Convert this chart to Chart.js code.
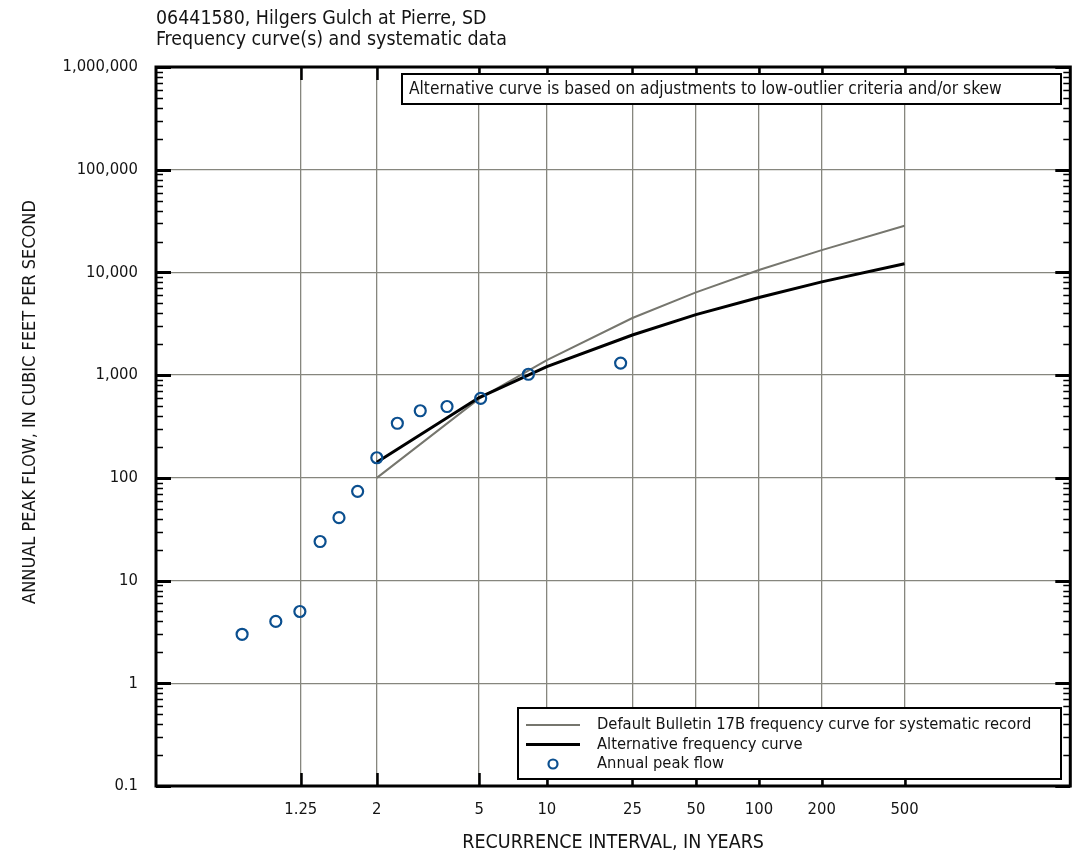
<!DOCTYPE html>
<html>
<head>
<meta charset="utf-8">
<script src="https://cdn.jsdelivr.net/npm/chart.js@4.4.1/dist/chart.umd.min.js"></script>
<style>
  html, body { margin: 0; padding: 0; background: #fff; }
  #wrap { width: 1078px; height: 855px; }
</style>
</head>
<body>
<div id="wrap"><canvas id="grafico" width="1078" height="855"></canvas></div>
<script>
// x axis: recurrence interval (years), drawn on a Gumbel (extreme value) scale
const xTickYears = [1.25, 2, 5, 10, 25, 50, 100, 200, 500];
const xTickLabels = ['1.25', '2', '5', '10', '25', '50', '100', '200', '500'];
const yTickValues = [0.1, 1, 10, 100, 1000, 10000, 100000, 1000000];

// frequency curves (recurrence interval -> peak flow, cfs)
const curveYears = [2, 5, 10, 25, 50, 100, 200, 500];
const defaultCurve = [100, 590, 1400, 3600, 6400, 10550, 16500, 28500];
const alternativeCurve = [142, 605, 1210, 2460, 3880, 5700, 8100, 12150];

// annual peaks (plotting position in years, flow in cfs)
const peakYears = [1.048, 1.136, 1.245, 1.375, 1.535, 1.737, 2.0, 2.357, 2.87, 3.667, 5.077, 8.25, 22.0];
const peakFlows = [3, 4, 5, 24, 41, 74, 157, 340, 450, 495, 595, 1020, 1310];

const FONTE = "'DejaVu Sans Condensed', 'DejaVu Sans', sans-serif";
const TEXTO = '#141414';
const GRADE = '#86867e';
const AZUL = '#0b4f8f';

Chart.defaults.font.family = FONTE;
Chart.defaults.color = TEXTO;

// reduced variate of the Gumbel distribution
function gumbel(T) {
    return -Math.log(-Math.log(1 - 1 / T));
}

function pares(anos, valores) {
    return anos.map((t, i) => ({ x: gumbel(t), y: valores[i] }));
}

function formatarVazao(v) {
    return v < 1 ? String(v) : v.toLocaleString('en-US');
}

const moldura = {
    id: 'moldura',
    afterDraw(chart) {
        const { ctx, chartArea: a, scales } = chart;
        const x = scales.x, y = scales.y;
        ctx.save();

        // inside tick marks on left and right axis
        ctx.strokeStyle = '#000';
        for (let d = 0.1; d < 2e6; d *= 10) {
            for (let m = 1; m <= 9; m++) {
                const v = d * m;
                if (v > 1e6 * 1.0001) break;
                const py = Math.round(y.getPixelForValue(v)) + 0.5;
                const major = m === 1;
                const len = major ? 15 : 7;
                ctx.lineWidth = major ? 3 : 1.5;
                ctx.beginPath();
                ctx.moveTo(a.left, py); ctx.lineTo(a.left + len, py);
                ctx.moveTo(a.right, py); ctx.lineTo(a.right - len, py);
                ctx.stroke();
            }
        }

        // tick marks at the recurrence intervals, top and bottom
        ctx.lineWidth = 2.5;
        xTickYears.forEach((t) => {
            const px = Math.round(x.getPixelForValue(gumbel(t))) + 0.5;
            ctx.beginPath();
            ctx.moveTo(px, a.top); ctx.lineTo(px, a.top + 13);
            ctx.moveTo(px, a.bottom); ctx.lineTo(px, a.bottom - 13);
            ctx.stroke();
        });

        // frame
        ctx.lineWidth = 3;
        ctx.strokeRect(a.left, a.top, a.right - a.left, a.bottom - a.top);

        // note box
        ctx.fillStyle = '#fff';
        ctx.fillRect(402, 74, 659, 30);
        ctx.lineWidth = 2;
        ctx.strokeRect(402, 74, 659, 30);
        ctx.fillStyle = TEXTO;
        ctx.font = '17.2px ' + FONTE;
        ctx.textBaseline = 'middle';
        ctx.textAlign = 'left';
        ctx.fillText('Alternative curve is based on adjustments to low-outlier criteria and/or skew', 409, 89.5);

        // legend box
        ctx.fillStyle = '#fff';
        ctx.fillRect(518, 708, 543, 71);
        ctx.strokeRect(518, 708, 543, 71);
        const ds = chart.data.datasets;
        const linhas = [ds[2], ds[1], ds[0]];
        linhas.forEach((d, i) => {
            const cy = 725 + i * 19.5;
            if (d.showLine) {
                ctx.strokeStyle = d.borderColor;
                ctx.lineWidth = d.borderWidth;
                ctx.beginPath();
                ctx.moveTo(526, cy); ctx.lineTo(580, cy);
                ctx.stroke();
            } else {
                ctx.strokeStyle = d.pointBorderColor;
                ctx.lineWidth = d.pointBorderWidth;
                ctx.beginPath();
                ctx.arc(553, cy, 4.5, 0, Math.PI * 2);
                ctx.stroke();
            }
            ctx.fillStyle = TEXTO;
            ctx.font = '16.4px ' + FONTE;
            ctx.fillText(d.label, 597, cy);
        });

        // y axis title
        ctx.translate(30, 402);
        ctx.rotate(-Math.PI / 2);
        ctx.textAlign = 'center';
        ctx.font = '18px ' + FONTE;
        ctx.fillStyle = TEXTO;
        ctx.fillText('ANNUAL PEAK FLOW, IN CUBIC FEET PER SECOND', 0, 0);

        ctx.restore();
    }
};

const ctx = document.getElementById('grafico');

new Chart(ctx, {
    type: 'scatter',
    data: {
        datasets: [{
            label: 'Annual peak flow',
            data: pares(peakYears, peakFlows),
            showLine: false,
            pointRadius: 5.5,
            pointBorderWidth: 2.2,
            pointBorderColor: AZUL,
            pointBackgroundColor: 'rgba(0,0,0,0)',
            order: 0
        },
        {
            label: 'Alternative frequency curve',
            data: pares(curveYears, alternativeCurve),
            showLine: true,
            borderColor: '#000',
            borderWidth: 3,
            pointRadius: 0,
            tension: 0,
            order: 1
        },
        {
            label: 'Default Bulletin 17B frequency curve for systematic record',
            data: pares(curveYears, defaultCurve),
            showLine: true,
            borderColor: '#76766e',
            borderWidth: 2,
            pointRadius: 0,
            tension: 0,
            order: 2
        }]
    },
    options: {
        responsive: false,
        animation: false,
        layout: { padding: { left: 0, right: 3, top: 0, bottom: 0 } },
        plugins: {
            legend: { display: false },
            tooltip: { enabled: false },
            title: {
                display: true,
                text: ['06441580, Hilgers Gulch at Pierre, SD', 'Frequency curve(s) and systematic data'],
                align: 'start',
                fullSize: false,
                color: TEXTO,
                font: { size: 19.4, weight: 'normal', lineHeight: 1.057 },
                padding: { top: 8.75, bottom: 17.25 }
            }
        },
        scales: {
            x: {
                type: 'linear',
                min: -2.08,
                max: 8.05,
                afterBuildTicks: (s) => { s.ticks = xTickYears.map((t) => ({ value: gumbel(t) })); },
                afterFit: (s) => { s.height = 69; },
                ticks: {
                    callback: (v, i) => xTickLabels[i],
                    font: { size: 16.5 },
                    padding: 14,
                    maxRotation: 0,
                    autoSkip: false
                },
                grid: { color: GRADE, lineWidth: 1.3, drawTicks: false },
                border: { display: false },
                title: {
                    display: true,
                    text: 'RECURRENCE INTERVAL, IN YEARS',
                    font: { size: 19.5 },
                    padding: { top: 0, bottom: 0 }
                }
            },
            y: {
                type: 'logarithmic',
                min: 0.1,
                max: 1000000,
                afterBuildTicks: (s) => { s.ticks = yTickValues.map((v) => ({ value: v })); },
                afterFit: (s) => { s.width = 156; },
                ticks: {
                    callback: (v) => formatarVazao(v),
                    font: { size: 16.5 },
                    padding: 18,
                    autoSkip: false
                },
                grid: { color: GRADE, lineWidth: 1.3, drawTicks: false },
                border: { display: false }
            }
        }
    },
    plugins: [moldura]
});
</script>
</body>
</html>
